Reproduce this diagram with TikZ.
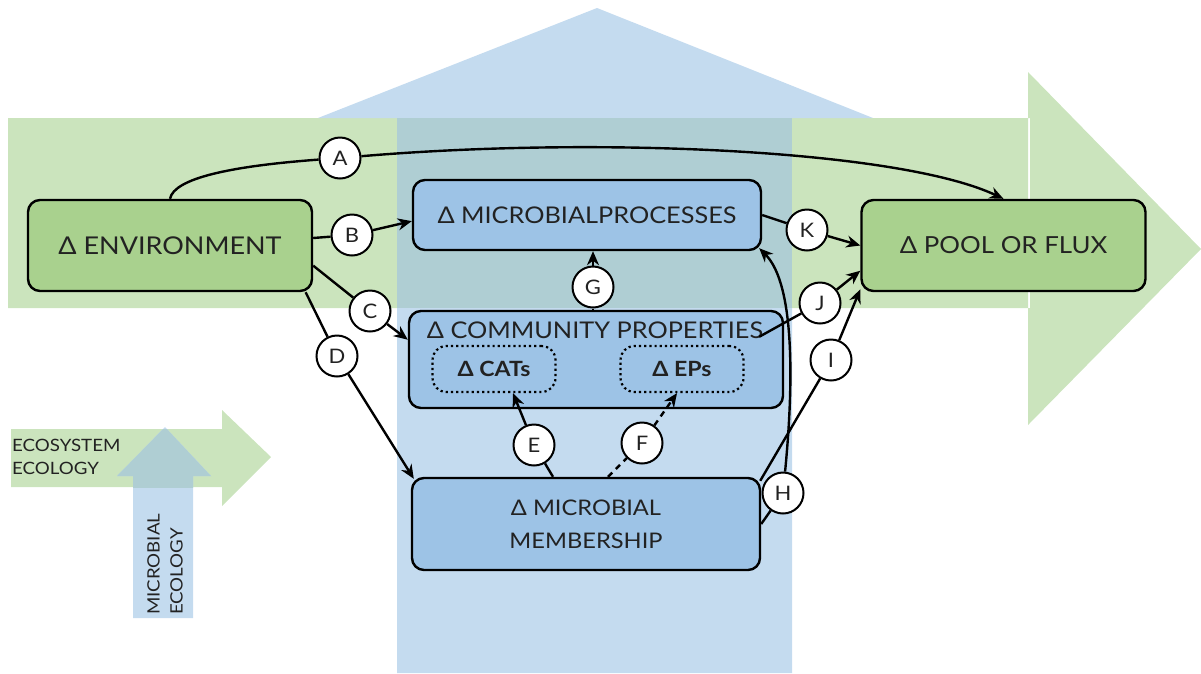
\documentclass[tikz,border=0pt]{standalone}
\usepackage{fontspec}
\setmainfont{Lato}[FakeStretch=1.1]
\usepackage{tikz}
\usetikzlibrary{positioning,arrows.meta,calc}
\definecolor{ecoband}{HTML}{CBE4BD}
\definecolor{micband}{HTML}{C4DBEF}
\definecolor{overlap}{HTML}{AFCED3}
\definecolor{envfill}{HTML}{A9D18E}
\definecolor{micfill}{HTML}{9DC3E6}
\definecolor{ink}{HTML}{222222}

\begin{document}
\begin{tikzpicture}[x=1pt,y=-1pt,
  box/.style={draw=black, line width=2.4pt, rounded corners=12pt, align=center, text=ink,
    font=\fontsize{24.5}{32}\selectfont},
  envbox/.style={box, fill=envfill, minimum width=284pt, minimum height=91pt},
  micbox/.style={box, fill=micfill},
  trait/.style={draw, line width=2.2pt, dash pattern=on 2.2pt off 3pt, rounded corners=14pt,
    minimum width=123pt, minimum height=46pt, text=ink, font=\fontsize{21}{24}\selectfont\bfseries},
  tag/.style={circle, draw, fill=white, line width=2pt, minimum size=41pt, inner sep=0pt,
    text=ink, font=\fontsize{20}{22}\selectfont},
  seg/.style={line width=2.4pt},
  link/.style={seg, -{Stealth[length=14pt,width=12pt]}},
  legend/.style={inner sep=0pt, align=left, text=ink, font=\fontsize{17}{23}\selectfont}]
\useasboundingbox (0,0) rectangle (1201,673);

% the two ecology arrows
\fill[ecoband] (8,118) rectangle (1030,308) (1028,72) -- (1201,249) -- (1028,425) -- cycle;
\fill[micband] (397,308) rectangle (792,673) (318,118) -- (597,8) -- (873,118) -- cycle;
\fill[overlap] (397,118) rectangle (792,308);

% key
\fill[ecoband] (11,429) rectangle (222,487) (222,410) -- (271,457) -- (222,506) -- cycle;
\fill[micband] (133,476) rectangle (193,618) (117,476) -- (165,427) -- (211,476) -- cycle;
\begin{scope}
  \clip (11,429) rectangle (222,487);
  \fill[overlap] (133,476) rectangle (193,618) (117,476) -- (165,427) -- (211,476) -- cycle;
\end{scope}
\node[legend, anchor=north west] (ecokey) at (12,439) {ECOSYSTEM\\ECOLOGY};
\node[legend, anchor=north west, rotate=90] (mickey) at (147,615) {MICROBIAL\\ECOLOGY};

% boxes
\node[envbox] (env) at (170,245.5) {Δ ENVIRONMENT};
\node[envbox, font=\fontsize{23.5}{32}\selectfont] (pool) at (1003.5,245.5) {Δ POOL OR FLUX};
\node[micbox, minimum width=348pt, minimum height=70pt, font=\fontsize{23}{32}\selectfont] (mp) at (587,215) {Δ MICROBIALPROCESSES};
\node[micbox, minimum width=374pt, minimum height=97pt] (cp) at (596,359.5) {};
\node[text=ink, font=\fontsize{23}{32}\selectfont] (cptitle) at (595,330) {Δ COMMUNITY PROPERTIES};
\node[trait] (cats) at (494,369) {Δ CATs};
\node[trait] (eps) at (682,369) {Δ EPs};
\node[micbox, minimum width=348pt, minimum height=92pt, font=\fontsize{21.5}{33}\selectfont] (mm) at (586,524) {Δ MICROBIAL\\MEMBERSHIP};

% path labels
\node[tag] (tagA) at (340,158) {A};
\node[tag] (tagB) at (352,235) {B};
\node[tag] (tagC) at (370,311) {C};
\node[tag] (tagD) at (337,356) {D};
\node[tag] (tagE) at (534,445) {E};
\node[tag] (tagF) at (642,443) {F};
\node[tag] (tagG) at (593,287) {G};
\node[tag] (tagH) at (783,493) {H};
\node[tag] (tagI) at (831,360) {I};
\node[tag] (tagJ) at (820,303) {J};
\node[tag] (tagK) at (807,230) {K};

% pathways
\draw[seg] (env.north) .. controls (174,178) and (232,166) .. (tagA);
\draw[link] (tagA) .. controls (600,136) and (900,150) .. (pool.north);
\draw[seg] (env.3) -- (tagB);
\draw[link] (tagB) -- (mp.182);
\draw[seg] (env.-8) -- (tagC);
\draw[link] (tagC) -- (cp.174);
\draw[seg] (env.-19) -- (tagD);
\draw[link] (tagD) -- ($(mm.north west)+(3,2)$);
\draw[seg] ($(mm.north)+(-33,0)$) -- (tagE);
\draw[link] (tagE) -- ($(cats.south)+(19,0)$);
\draw[seg, dash pattern=on 6pt off 5pt] ($(mm.north)+(22,0)$) -- (tagF);
\draw[link, dash pattern=on 6pt off 5pt] (tagF) -- ($(eps.south)+(-5,0)$);
\draw[seg] (cp.north -| tagG) -- (tagG);
\draw[link] (tagG) -- (mp.south -| tagG);
\draw[seg] (mm.east) -- (tagH);
\draw[link] (tagH) .. controls (793,390) and (796,285) .. ($(mp.south east)+(-3,-3)$);
\draw[seg] ($(mm.north east)+(-1,4)$) -- (tagI);
\draw[link] (tagI) -- (pool.197);
\draw[seg] ($(cp.north east)+(-25,27)$) -- (tagJ);
\draw[link] (tagJ) -- (pool.190);
\draw[seg] (mp.east) -- (tagK);
\draw[link] (tagK) -- (pool.west);
\end{tikzpicture}
\end{document}
